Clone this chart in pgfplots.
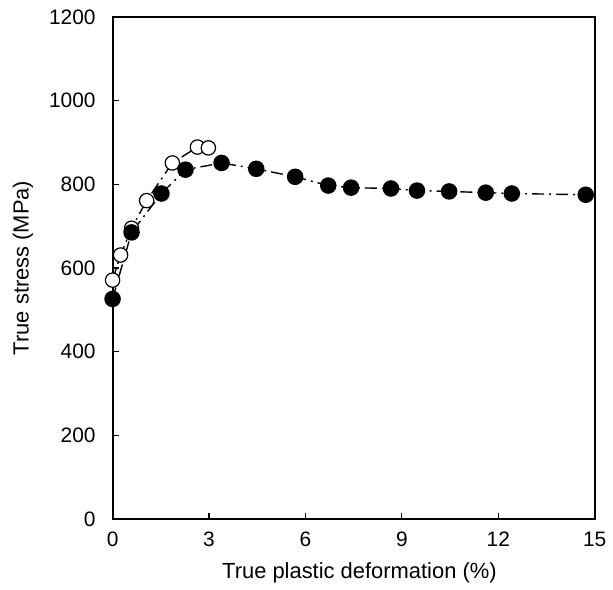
\documentclass[border=0pt]{standalone}
\usepackage{fontspec}
\setmainfont{Liberation Sans}
\usepackage{pgfplots}
\pgfplotsset{compat=1.18}

\begin{document}
\begin{tikzpicture}
\begin{axis}[
  scale only axis, width=242pt, height=252pt,
  xmin=0, xmax=15, ymin=0, ymax=1200,
  xtick={0,3,6,9,12,15}, ytick={0,200,...,1200},
  tick align=inside, major tick length=3pt,
  xtick pos=left, ytick pos=left,
  axis line style={line width=1pt},
  every tick/.style={black, line width=0.6pt},
  /pgf/number format/assume math mode=true,
  /pgf/number format/1000 sep={},
  tick label style={font=\fontsize{10.5}{12}\selectfont},
  yticklabel style={xshift=-5pt},
  xticklabel style={yshift=-3pt},
  xlabel={True plastic deformation (\%)},
  ylabel={True stress (MPa)},
  label style={font=\fontsize{11}{13}\selectfont},
  xlabel style={at={(axis description cs:0.512,-0.107)}, anchor=center},
  ylabel style={at={(axis description cs:-0.186,0.5)}, anchor=center},
  clip=false,
]
% open circles
\addplot[black, line width=0.7pt, dash pattern=on 6pt off 2.5pt on 1pt off 2.5pt,
  mark=*, mark size=3.6pt,
  mark options={solid, fill=white, draw=black, line width=0.6pt}]
  coordinates {
  (0,571) (0.25,631) (0.59,695) (1.06,761) (1.86,851) (2.64,889) (2.98,887)
};
% filled circles
\addplot[black, line width=0.7pt, dash pattern=on 6pt off 2.5pt on 1pt off 2.5pt,
  mark=*, mark size=3.8pt,
  mark options={solid, fill=black}]
  coordinates {
  (0,526) (0.59,685) (1.52,778) (2.27,835) (3.39,851) (4.47,837) (5.68,818)
  (6.71,797) (7.42,792) (8.66,790) (9.47,785) (10.47,783) (11.61,780)
  (12.42,778) (14.72,775)
};
\end{axis}
\path ([shift={(-56.5pt,-32pt)}]current axis.south west)
  rectangle ([shift={(8pt,8.5pt)}]current axis.north east);
\end{tikzpicture}
\end{document}
